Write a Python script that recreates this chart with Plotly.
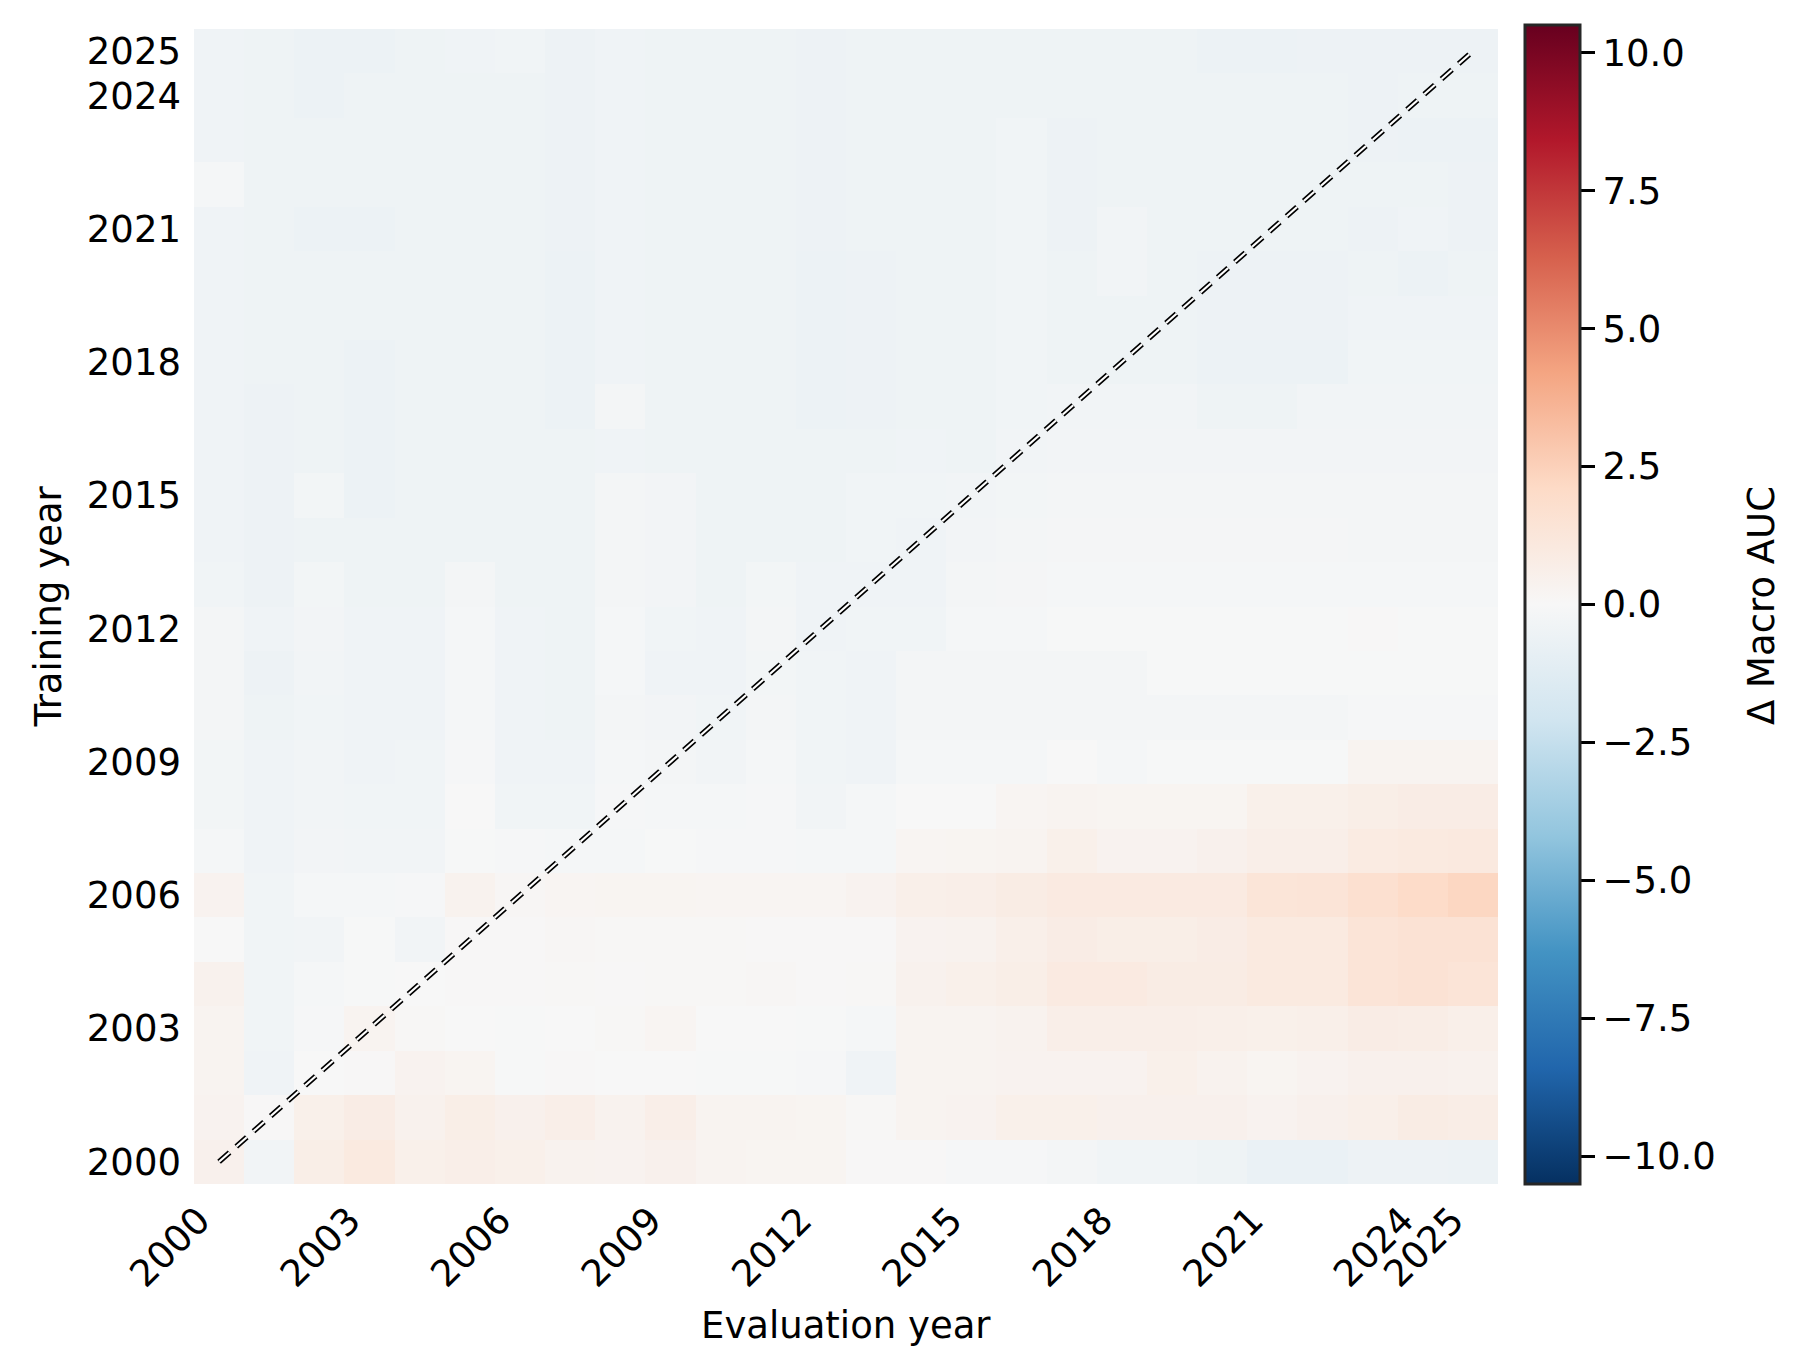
import plotly.graph_objects as go
import plotly.express as px

# ---- data -------------------------------------------------------------
eval_years = list(range(2000, 2026))
train_years = list(range(2000, 2026))
tick_years = [2000, 2003, 2006, 2009, 2012, 2015, 2018, 2021, 2024, 2025]
cbar_ticks = [-10.0, -7.5, -5.0, -2.5, 0.0, 2.5, 5.0, 7.5, 10.0]
cbar_labels = ["\u221210.0", "\u22127.5", "\u22125.0", "\u22122.5", "0.0", "2.5", "5.0", "7.5", "10.0"]

# delta macro AUC, one row per training year (2000 ... 2025), columns = evaluation year 2000 ... 2025
delta_auc = [
    [0.5, -0.35, 0.7, 1.0, 0.55, 0.65, 0.55, 0.4, 0.35, 0.5, 0.3, 0.25, 0.25, 0.05, 0.05, -0.1, -0.1, -0.2, -0.4, -0.4, -0.5, -0.7, -0.7, -0.55, -0.55, -0.6],
    [0.35, 0.05, 0.55, 0.8, 0.45, 0.7, 0.5, 0.65, 0.4, 0.65, 0.3, 0.3, 0.25, 0.1, 0.3, 0.35, 0.55, 0.55, 0.5, 0.5, 0.5, 0.35, 0.5, 0.6, 0.85, 0.75],
    [0.3, -0.45, 0.0, 0.05, 0.35, 0.25, -0.05, 0.05, 0.0, 0.0, -0.05, -0.05, -0.1, -0.45, 0.3, 0.3, 0.35, 0.35, 0.35, 0.55, 0.4, 0.25, 0.35, 0.5, 0.5, 0.45],
    [0.3, -0.4, -0.1, 0.3, 0.1, 0.0, -0.05, 0.0, 0.1, 0.2, 0.0, 0.0, -0.05, -0.15, 0.3, 0.3, 0.4, 0.65, 0.65, 0.65, 0.6, 0.55, 0.6, 0.8, 0.75, 0.6],
    [0.45, -0.4, -0.15, -0.05, 0.0, 0.05, 0.05, 0.1, 0.05, 0.1, 0.1, 0.15, 0.05, 0.1, 0.45, 0.55, 0.7, 0.95, 0.95, 0.85, 0.85, 1.0, 1.0, 1.4, 1.55, 1.4],
    [0.0, -0.4, -0.35, -0.05, -0.35, 0.05, 0.05, 0.15, 0.1, 0.1, 0.1, 0.05, 0.05, 0.05, 0.35, 0.4, 0.6, 0.8, 0.7, 0.7, 0.8, 1.0, 1.0, 1.4, 1.55, 1.55],
    [0.35, -0.4, -0.15, -0.15, -0.1, 0.4, 0.15, 0.2, 0.25, 0.25, 0.2, 0.2, 0.2, 0.35, 0.6, 0.65, 0.85, 0.95, 0.95, 0.95, 0.95, 1.35, 1.4, 1.7, 2.0, 2.25],
    [-0.15, -0.45, -0.3, -0.35, -0.35, -0.05, -0.1, -0.15, -0.15, -0.05, -0.1, -0.1, -0.15, -0.15, 0.2, 0.25, 0.3, 0.55, 0.35, 0.35, 0.5, 0.65, 0.65, 0.9, 1.0, 1.05],
    [-0.25, -0.45, -0.35, -0.4, -0.4, 0.0, -0.4, -0.4, -0.1, -0.15, -0.15, -0.1, -0.35, -0.15, 0.0, 0.0, 0.2, 0.3, 0.25, 0.25, 0.25, 0.55, 0.55, 0.7, 0.8, 0.8],
    [-0.25, -0.45, -0.35, -0.45, -0.4, -0.1, -0.45, -0.45, -0.15, -0.2, -0.35, -0.15, -0.4, -0.45, -0.15, -0.15, -0.15, 0.0, -0.15, -0.05, -0.05, -0.05, -0.05, 0.3, 0.3, 0.3],
    [-0.2, -0.5, -0.4, -0.45, -0.45, -0.15, -0.45, -0.5, -0.2, -0.3, -0.4, -0.2, -0.4, -0.45, -0.2, -0.2, -0.2, -0.2, -0.2, -0.2, -0.2, -0.2, -0.2, -0.1, -0.1, -0.1],
    [-0.2, -0.55, -0.35, -0.45, -0.45, -0.15, -0.45, -0.5, -0.15, -0.45, -0.45, -0.25, -0.4, -0.45, -0.2, -0.2, -0.2, -0.2, -0.2, -0.05, -0.05, -0.05, -0.05, -0.05, -0.05, -0.05],
    [-0.2, -0.45, -0.3, -0.45, -0.45, -0.15, -0.45, -0.5, -0.15, -0.4, -0.45, -0.2, -0.45, -0.4, -0.4, -0.15, -0.15, -0.05, -0.05, -0.05, -0.05, -0.05, -0.05, 0.05, -0.05, -0.05],
    [-0.4, -0.55, -0.25, -0.5, -0.5, -0.2, -0.5, -0.5, -0.2, -0.3, -0.5, -0.25, -0.45, -0.45, -0.45, -0.2, -0.18, -0.15, -0.15, -0.15, -0.15, -0.15, -0.15, -0.15, -0.15, -0.15],
    [-0.45, -0.55, -0.5, -0.5, -0.5, -0.5, -0.5, -0.5, -0.2, -0.3, -0.5, -0.5, -0.5, -0.4, -0.45, -0.3, -0.22, -0.18, -0.18, -0.18, -0.18, -0.18, -0.18, -0.2, -0.2, -0.2],
    [-0.45, -0.55, -0.25, -0.6, -0.5, -0.5, -0.5, -0.5, -0.2, -0.3, -0.5, -0.5, -0.5, -0.4, -0.4, -0.35, -0.25, -0.22, -0.22, -0.22, -0.22, -0.22, -0.22, -0.22, -0.22, -0.22],
    [-0.45, -0.55, -0.5, -0.6, -0.5, -0.5, -0.5, -0.5, -0.45, -0.5, -0.5, -0.5, -0.5, -0.5, -0.45, -0.5, -0.35, -0.3, -0.3, -0.3, -0.3, -0.3, -0.3, -0.3, -0.3, -0.3],
    [-0.45, -0.55, -0.5, -0.6, -0.5, -0.5, -0.5, -0.6, -0.2, -0.5, -0.5, -0.5, -0.6, -0.55, -0.5, -0.5, -0.38, -0.35, -0.35, -0.35, -0.5, -0.5, -0.35, -0.35, -0.35, -0.35],
    [-0.45, -0.5, -0.5, -0.6, -0.5, -0.5, -0.5, -0.6, -0.45, -0.5, -0.5, -0.5, -0.6, -0.55, -0.5, -0.5, -0.38, -0.5, -0.5, -0.5, -0.6, -0.6, -0.6, -0.4, -0.38, -0.38],
    [-0.45, -0.5, -0.5, -0.5, -0.5, -0.5, -0.5, -0.6, -0.45, -0.5, -0.5, -0.5, -0.6, -0.55, -0.5, -0.5, -0.38, -0.5, -0.5, -0.5, -0.55, -0.55, -0.55, -0.45, -0.45, -0.45],
    [-0.45, -0.5, -0.5, -0.5, -0.5, -0.5, -0.5, -0.6, -0.45, -0.5, -0.5, -0.5, -0.6, -0.55, -0.5, -0.5, -0.38, -0.5, -0.33, -0.5, -0.55, -0.55, -0.55, -0.5, -0.6, -0.5],
    [-0.45, -0.5, -0.6, -0.6, -0.5, -0.5, -0.5, -0.55, -0.45, -0.5, -0.5, -0.5, -0.55, -0.5, -0.5, -0.5, -0.38, -0.55, -0.33, -0.5, -0.5, -0.5, -0.5, -0.55, -0.45, -0.55],
    [-0.15, -0.5, -0.5, -0.5, -0.5, -0.5, -0.5, -0.55, -0.45, -0.5, -0.5, -0.5, -0.55, -0.5, -0.5, -0.5, -0.38, -0.55, -0.5, -0.5, -0.5, -0.5, -0.5, -0.5, -0.5, -0.55],
    [-0.45, -0.5, -0.5, -0.5, -0.5, -0.5, -0.5, -0.55, -0.45, -0.5, -0.5, -0.5, -0.55, -0.5, -0.5, -0.5, -0.38, -0.55, -0.5, -0.5, -0.5, -0.5, -0.5, -0.55, -0.6, -0.6],
    [-0.45, -0.5, -0.6, -0.5, -0.5, -0.5, -0.5, -0.55, -0.45, -0.5, -0.5, -0.5, -0.55, -0.5, -0.5, -0.5, -0.5, -0.5, -0.5, -0.5, -0.5, -0.5, -0.5, -0.55, -0.5, -0.5],
    [-0.45, -0.5, -0.6, -0.6, -0.5, -0.45, -0.4, -0.55, -0.45, -0.5, -0.5, -0.5, -0.55, -0.5, -0.5, -0.5, -0.5, -0.5, -0.5, -0.5, -0.6, -0.6, -0.55, -0.55, -0.55, -0.55],
]

# ---- styling ----------------------------------------------------------
FONT = "DejaVu Sans"
FS = 37
W, H = 1811, 1346
L, R, T, B = 194, 1498, 29, 1184
pw, ph = R - L, B - T

rdbu = px.colors.diverging.RdBu[::-1]  # RdBu_r
colorscale = [[i / (len(rdbu) - 1), c] for i, c in enumerate(rdbu)]

fig = go.Figure()
fig.add_trace(go.Heatmap(
    z=delta_auc, x=eval_years, y=train_years,
    zmin=-10.5, zmax=10.5, colorscale=colorscale,
    colorbar=dict(
        x=(1525 - L) / pw, xanchor="left", xpad=0,
        y=0, yanchor="bottom", ypad=0,
        len=1159, lenmode="pixels",
        thickness=55, thicknessmode="pixels",
        outlinewidth=3, outlinecolor="#262626",
        ticks="outside", ticklen=14, tickwidth=3, tickcolor="black",
        tickvals=cbar_ticks, ticktext=cbar_labels,
        tickfont=dict(family=FONT, size=FS, color="black"),
    ),
    hoverongaps=False,
))

diag = [eval_years[0], eval_years[-1]]
fig.add_trace(go.Scatter(x=diag, y=diag, mode="lines",
                         line=dict(color="black", width=5.5, dash="14px,9px"),
                         showlegend=False, hoverinfo="skip"))
fig.add_trace(go.Scatter(x=diag, y=diag, mode="lines",
                         line=dict(color="white", width=2.2, dash="14px,9px"),
                         showlegend=False, hoverinfo="skip"))

axis_common = dict(
    showgrid=False, zeroline=False, showline=False, ticks="",
    tickvals=tick_years, ticktext=[str(v) for v in tick_years],
    tickfont=dict(family=FONT, size=FS, color="black"),
    range=[1999.5, 2025.5],
)
fig.update_xaxes(**axis_common, tickangle=-45, ticklabelstandoff=6, ticklabelshift=-20)
fig.update_yaxes(**axis_common, ticklabelstandoff=12)

fig.update_layout(
    width=W, height=H,
    margin=dict(l=L, r=W - R, t=T, b=H - B, autoexpand=False),
    paper_bgcolor="white", plot_bgcolor="white",
    font=dict(family=FONT, size=FS, color="black"),
    showlegend=False,
    annotations=[
        dict(text="Evaluation year", xref="paper", yref="paper",
             x=0.5, y=(B - 1325) / ph, xanchor="center", yanchor="middle",
             showarrow=False, font=dict(family=FONT, size=FS)),
        dict(text="Training year", xref="paper", yref="paper",
             x=(48 - L) / pw, y=0.5, xanchor="center", yanchor="middle",
             textangle=-90, showarrow=False, font=dict(family=FONT, size=FS)),
        dict(text="\u0394 Macro AUC", xref="paper", yref="paper",
             x=(1761 - L) / pw, y=(B - 606) / ph, xanchor="center", yanchor="middle",
             textangle=-90, showarrow=False, font=dict(family=FONT, size=FS)),
    ],
)

fig.write_html("out.html", config={"displayModeBar": False})
